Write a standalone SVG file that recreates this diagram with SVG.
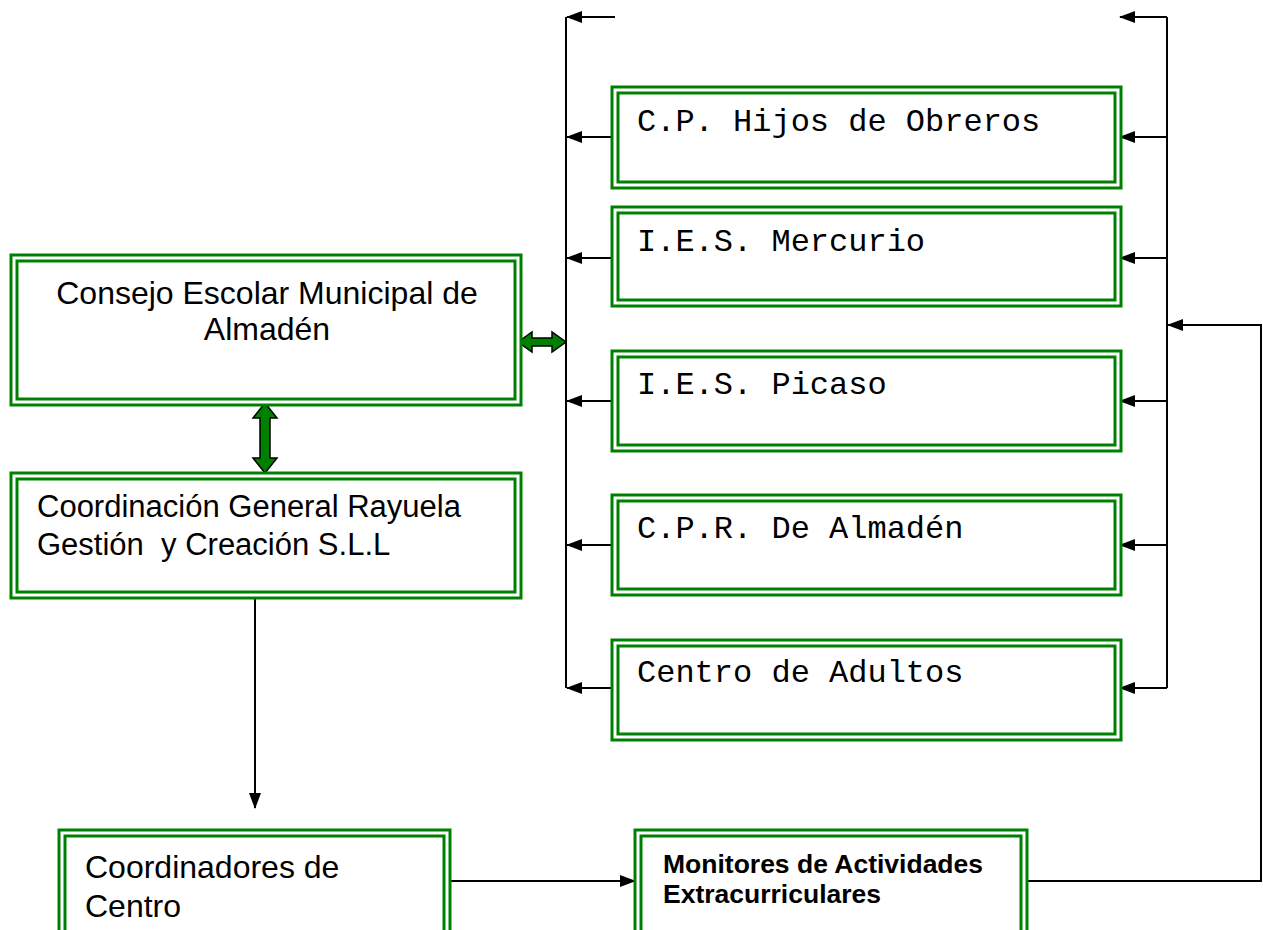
<svg xmlns="http://www.w3.org/2000/svg" width="1263" height="930" viewBox="0 0 1263 930">
<style>
.ob{fill:#fff;stroke:#008000;stroke-width:3}
.ib{fill:none;stroke:#008000;stroke-width:3}
.ln{fill:none;stroke:#000;stroke-width:2}
.sans{font-family:"Liberation Sans",Arial,sans-serif;font-size:31.5px;fill:#000;white-space:pre}
.mono{font-family:"Liberation Mono","Courier New",monospace;font-size:32px;fill:#000}
.bold{font-family:"Liberation Sans",Arial,sans-serif;font-size:26.5px;font-weight:bold;fill:#000}
.ga{fill:#008000;stroke:#000;stroke-width:1.5}
</style>
<defs>
<marker id="ah" viewBox="0 0 16 12" refX="15" refY="6" markerWidth="16" markerHeight="12" markerUnits="userSpaceOnUse" orient="auto">
<path d="M0,0 L16,6 L0,12 Z" fill="#000"/>
</marker>
</defs>
<g id="connectors">
<line class="ln" x1="566" y1="17" x2="566" y2="688"/>
<line class="ln" x1="615" y1="17" x2="567" y2="17" marker-end="url(#ah)"/>
<line class="ln" x1="613" y1="137" x2="567" y2="137" marker-end="url(#ah)"/>
<line class="ln" x1="613" y1="258" x2="567" y2="258" marker-end="url(#ah)"/>
<line class="ln" x1="613" y1="401" x2="567" y2="401" marker-end="url(#ah)"/>
<line class="ln" x1="613" y1="545" x2="567" y2="545" marker-end="url(#ah)"/>
<line class="ln" x1="613" y1="688" x2="567" y2="688" marker-end="url(#ah)"/>
<line class="ln" x1="1167" y1="17" x2="1167" y2="688"/>
<line class="ln" x1="1167" y1="17" x2="1120" y2="17" marker-end="url(#ah)"/>
<line class="ln" x1="1167" y1="137" x2="1120" y2="137" marker-end="url(#ah)"/>
<line class="ln" x1="1167" y1="258" x2="1120" y2="258" marker-end="url(#ah)"/>
<line class="ln" x1="1167" y1="401" x2="1120" y2="401" marker-end="url(#ah)"/>
<line class="ln" x1="1167" y1="545" x2="1120" y2="545" marker-end="url(#ah)"/>
<line class="ln" x1="1167" y1="688" x2="1120" y2="688" marker-end="url(#ah)"/>
<polyline class="ln" points="1027,881 1261,881 1261,325 1168,325" marker-end="url(#ah)"/>
<line class="ln" x1="255" y1="598" x2="255" y2="808" marker-end="url(#ah)"/>
<line class="ln" x1="450" y1="881" x2="635" y2="881" marker-end="url(#ah)"/>
<path class="ga" d="M518,342 L532,332 L532,338 L552,338 L552,332 L566,342 L552,352 L552,346 L532,346 L532,352 Z"/>
<path class="ga" d="M265,403 L277,418 L270,418 L270,458 L277,458 L265,473 L253,458 L260,458 L260,418 L253,418 Z"/>
</g>
<g id="consejo">
<rect class="ob" x="11" y="255" width="510" height="150"/>
<rect class="ib" x="17" y="261" width="498" height="138"/>
<text class="sans" x="267" y="304" text-anchor="middle" style="font-size:32px">Consejo Escolar Municipal de</text>
<text class="sans" x="267" y="340" text-anchor="middle" style="font-size:32px">Almadén</text>
</g>
<g id="coordinacion">
<rect class="ob" x="11" y="473" width="510" height="125"/>
<rect class="ib" x="17" y="479" width="498" height="113"/>
<text class="sans" x="37" y="517" style="font-size:31px">Coordinación General Rayuela</text>
<text class="sans" x="37" y="555" style="font-size:31px">Gestión  y Creación S.L.L</text>
</g>
<g id="coordinadores">
<rect class="ob" x="59" y="830" width="391" height="110"/>
<rect class="ib" x="65" y="836" width="379" height="98"/>
<text class="sans" x="85" y="878" style="font-size:32px">Coordinadores de</text>
<text class="sans" x="85" y="917" style="font-size:32px">Centro</text>
</g>
<g id="monitores">
<rect class="ob" x="635" y="830" width="392" height="110"/>
<rect class="ib" x="641" y="836" width="380" height="98"/>
<text class="bold" x="663" y="873">Monitores de Actividades</text>
<text class="bold" x="663" y="903">Extracurriculares</text>
</g>
<g id="cp-hijos">
<rect class="ob" x="612" y="87" width="509" height="101"/>
<rect class="ib" x="618" y="93" width="497" height="89"/>
<text class="mono" x="637" y="131">C.P. Hijos de Obreros</text>
</g>
<g id="ies-mercurio">
<rect class="ob" x="612" y="207" width="509" height="99"/>
<rect class="ib" x="618" y="213" width="497" height="87"/>
<text class="mono" x="637" y="251">I.E.S. Mercurio</text>
</g>
<g id="ies-picaso">
<rect class="ob" x="612" y="351" width="509" height="100"/>
<rect class="ib" x="618" y="357" width="497" height="88"/>
<text class="mono" x="637" y="394">I.E.S. Picaso</text>
</g>
<g id="cpr">
<rect class="ob" x="612" y="495" width="509" height="100"/>
<rect class="ib" x="618" y="501" width="497" height="88"/>
<text class="mono" x="637" y="538">C.P.R. De Almadén</text>
</g>
<g id="adultos">
<rect class="ob" x="612" y="640" width="509" height="100"/>
<rect class="ib" x="618" y="646" width="497" height="88"/>
<text class="mono" x="637" y="682">Centro de Adultos</text>
</g>
</svg>
